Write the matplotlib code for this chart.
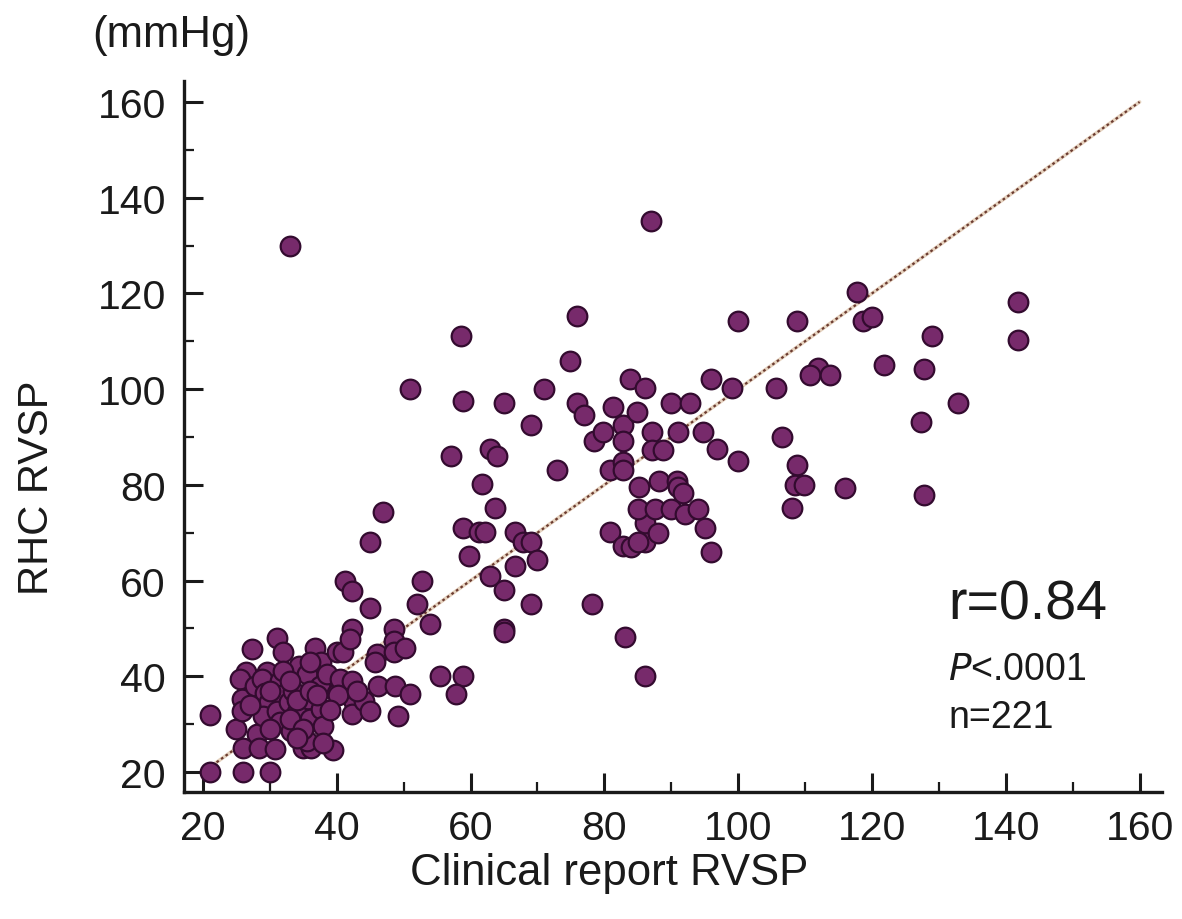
import matplotlib
matplotlib.use("Agg")
import matplotlib.pyplot as plt
from matplotlib.ticker import MultipleLocator

plt.rcParams['font.family'] = ['Liberation Sans', 'DejaVu Sans']

# ---- data ----
clinical_rvsp = [
    # dense low cluster
    21, 21, 26, 30, 25, 28, 26, 28.3, 30.8, 35, 36.2, 39.5, 26.5, 27.3, 31, 32, 29.5, 34.3, 36.7, 37.7,
    40, 41, 42.2, 42, 41.2, 42.2, 45, 46, 45.7, 48.5, 48.5, 48.5, 46.2, 48.7, 49.2, 25.5, 25.8, 25.8,
    27.8, 28.8, 29.3, 29.8, 29, 31.5, 31.8, 31, 31.5, 33.2, 32.8, 33.5, 34, 35.5, 35.7, 36, 37.5, 37.7,
    38, 38.5, 40, 40.5, 42.2, 42.5, 42.2, 44, 45, 40.2, 35.5,
    33, 34, 36, 30, 32, 37, 39, 35, 38, 43, 27, 33, 36, 34, 30,
    # mid region
    58.9, 65, 75.9, 76.9, 81.3, 82.8, 82.8, 78.4, 79.8, 69.1, 57, 62.9, 63.9, 72.9, 80.8, 82.8,
    61.7, 63.7, 46.9, 58.8, 61.2, 62.2, 66.6, 67.9, 69.1, 59.8, 66.6, 70, 62.9, 65, 69.1, 78.1,
    80.8, 82.8, 65, 65, 83.1, 52.7, 52, 54, 50.2, 55.4, 58.9, 57.8, 50.9,
    # upper mid
    86.9, 75.9, 100, 74.9, 70.9, 83.8, 86.1, 95.9, 99, 105.7, 84.8, 90, 92.8, 87.1, 91, 94.8,
    87.1, 88.8, 96.8, 100, 82.8, 85.1, 88.1, 90.8, 91, 91.8,
    # right region
    117.8, 118.7, 120, 108.8, 128.9, 112, 110.7, 113.7, 121.8, 127.7, 132.9, 127.4, 106.6,
    108.8, 108.5, 109.8, 116, 127.7, 108, 141.8, 141.8,
    # others
    33, 58.5, 51, 45, 86, 84, 86, 86, 85, 88, 87.5, 90, 92, 94, 95, 96, 85,
]
rhc_rvsp = [
    32, 20, 20, 20, 29, 28, 25, 25, 24.8, 25, 25, 24.5, 40.8, 45.8, 48.1, 45, 40.8, 42.2, 46, 42.9,
    45, 45, 49.9, 47.8, 60, 57.9, 54.2, 44.7, 42.9, 49.9, 47.4, 45, 38, 38, 31.8, 39.4, 35.3, 32.8,
    38, 39.4, 36.6, 34.6, 31.8, 39.1, 36, 32.8, 30.4, 28.6, 34.6, 37, 32.5, 40.5, 35.3, 31.1, 38, 33.2,
    29.7, 40.5, 36.6, 39.4, 39.1, 34.6, 32.1, 34.9, 32.8, 36, 26.5,
    31, 35, 37, 37, 41, 36, 33, 29, 26, 37, 34, 39, 43, 27, 29,
    97.6, 97.1, 97.1, 94.5, 96.2, 92.4, 89.2, 89.2, 91, 92.4, 86, 87.5, 86, 83, 83, 84.7,
    80.2, 75.1, 74.3, 70.9, 70.1, 70.1, 70.1, 68, 68, 65.2, 63.1, 64.2, 61, 58.1, 55.1, 55.1,
    70.1, 67.3, 49.9, 49.3, 48.2, 60, 55.1, 51, 46, 40.1, 40.1, 36.3, 36.3,
    135.2, 115.2, 114.3, 105.8, 100, 102.1, 100.2, 102.1, 100.2, 100.2, 95.2, 97.2, 97.2, 91, 91, 91,
    87.2, 87.2, 87.4, 85, 83, 79.5, 80.9, 80.9, 79.5, 78.3,
    120.2, 114.3, 115, 114.3, 111, 104.5, 103, 103, 105.1, 104.3, 97.2, 93.1, 90.1,
    84.2, 80, 80, 79.3, 77.9, 75.1, 118.2, 110.3,
    130, 111, 100, 68, 40, 67, 68, 72, 75, 70, 75, 75, 74, 75, 71, 66, 68,
]

fit_x = [20, 160]
fit_slope = 1.0
fit_intercept = 0.0

x_ticks = [20, 40, 60, 80, 100, 120, 140, 160]
y_ticks = [20, 40, 60, 80, 100, 120, 140, 160]

stats_r = "r=0.84"
stats_p = "<.0001"
stats_n = "n=221"

# ---- figure ----
fig = plt.figure(figsize=(11.82, 9.2), dpi=100)

ax = fig.add_axes([184/1182, 127/920, 978/1182, 711/920])

ax.set_xlim(17.16, 163.35)
ax.set_ylim(15.82, 164.38)

fit_y = [fit_slope * v + fit_intercept for v in fit_x]
ax.plot(fit_x, fit_y, color='#e6d3c0', lw=2.6, zorder=2, solid_capstyle='round')
ax.plot(fit_x, fit_y, color='#6b3b30', lw=1.6, ls=(0, (1.2, 1.3)), zorder=3)

ax.scatter(clinical_rvsp, rhc_rvsp, s=200, c='#772a6b', edgecolors='#330b2f',
           linewidths=1.6, zorder=4)

for s in ['top', 'right']:
    ax.spines[s].set_visible(False)
for s in ['left', 'bottom']:
    ax.spines[s].set_linewidth(2.4)
    ax.spines[s].set_color('#1a1a1a')

ax.set_xticks(x_ticks)
ax.set_yticks(y_ticks)
ax.xaxis.set_minor_locator(MultipleLocator(10))
ax.yaxis.set_minor_locator(MultipleLocator(10))
ax.tick_params(which='major', direction='in', length=14, width=2.2, colors='#1a1a1a',
               labelsize=29.5, pad=12)
ax.tick_params(which='minor', direction='in', length=7.5, width=1.6, colors='#1a1a1a')
ax.tick_params(axis='y', which='major', pad=13)

ax.set_xlabel("Clinical report RVSP", fontsize=31.5, color='#1a1a1a')
ax.xaxis.set_label_coords(0.435, -0.113)
ax.xaxis.label.set_va('center')
ax.set_ylabel("RHC RVSP", fontsize=30, color='#1a1a1a')
ax.yaxis.set_label_coords(-0.150, 0.430)
ax.yaxis.label.set_va('center')

fig.text(92/1182, 1 - 35/920, "(mmHg)", fontsize=31.5, color='#1a1a1a', ha='left', va='center')

fig.text(948/1182, 1 - 606/920, stats_r, fontsize=40, color='#1a1a1a', ha='left', va='center')
fig.text(948/1182, 1 - 670/920, r"$\mathit{P}$" + stats_p, fontsize=27, color='#1a1a1a',
         ha='left', va='center')
fig.text(948/1182, 1 - 718/920, stats_n, fontsize=27, color='#1a1a1a', ha='left', va='center')

fig.savefig("out.png", dpi=100)
